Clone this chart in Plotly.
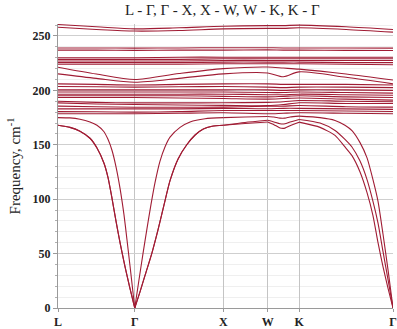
import plotly.graph_objects as go

# High-symmetry path positions (reciprocal-space distance) and labels
sym_k = [0.0, 0.866, 1.866, 2.366, 2.720, 3.780]
sym_labels = ["L", "Γ", "X", "W", "K", "Γ"]

# ---- acoustic branches, sampled per path segment (k, frequency) ----
# L -> Γ
k_ta_LG = [0.0, 0.135, 0.248, 0.361, 0.440, 0.519, 0.564, 0.609, 0.654, 0.700, 0.756, 0.812, 0.866]
ta_LG = [168, 166, 162.5, 156, 147, 133, 120, 101, 80, 60, 38, 18, 0]
k_la_LG = [0.0, 0.135, 0.248, 0.361, 0.440, 0.519, 0.564, 0.609, 0.654, 0.700, 0.744, 0.778, 0.812, 0.866]
la_LG = [175, 174.7, 173.5, 171, 168, 162, 155, 145, 130, 110, 86, 63, 39, 0]
# Γ -> X
k_la_GX = [0.866, 0.914, 0.959, 1.004, 1.049, 1.094, 1.151, 1.207, 1.264, 1.377, 1.490, 1.659, 1.866]
la_GX = [0, 26, 50, 73, 95, 115, 135, 148, 157, 166, 171, 174, 175]
k_ta_GX = [0.866, 0.926, 0.982, 1.058, 1.129, 1.197, 1.264, 1.355, 1.453, 1.547, 1.640, 1.739, 1.866]
ta_GX = [0, 15, 30, 50, 72, 95, 117, 137, 150, 159, 164.5, 167, 168]
# X -> W
k_XW = [1.866, 2.110, 2.366]
a1_XW = [175, 175.5, 176]
a2_XW = [168, 170.5, 172.5]
a3_XW = [168, 169.5, 171]
# W -> K
k_WK = [2.366, 2.437, 2.505, 2.561, 2.618, 2.720]
a1_WK = [176, 175.5, 174.5, 174.5, 175.5, 176.3]
a2_WK = [172.5, 171, 169.3, 169.3, 171, 173.3]
a3_WK = [171, 168.5, 165.5, 165.3, 167.5, 170.8]
# K -> Γ
k_KG = [2.720, 2.957, 3.126, 3.238, 3.317, 3.408, 3.487, 3.554, 3.611, 3.667, 3.724, 3.780]
a1_KG = [176.3, 175, 172.4, 168, 163, 152, 138, 118, 98, 68, 35, 0]
a2_KG = [173.3, 170, 163.2, 155, 148, 135, 118, 98, 78, 52, 26, 0]
a3_KG = [170.8, 166, 158.6, 148, 140, 125, 106, 85, 60, 38, 18, 0]

# ---- optical branches, sampled at L, mid, Γ, mid, X, W, mid, K, mid, Γ ----
k_opt = [0.0, 0.433, 0.866, 1.366, 1.866, 2.366, 2.543, 2.720, 3.250, 3.780]
optical = [
    [260.5, 258.5, 256.5, 257.5, 259, 259.5, 259.5, 260, 258.5, 256],
    [258, 256, 254.5, 255, 256.5, 257, 257, 257.5, 256, 253.5],
    [239, 239, 238.8, 239, 239.2, 239.2, 239, 239, 239, 238.8],
    [237, 237, 236.8, 237, 237, 237.2, 237, 237, 236.8, 236.6],
    [230, 230, 230, 230.5, 230.5, 230.5, 230.5, 230.5, 230.5, 230.5],
    [228.5, 228.5, 228.5, 228.5, 229, 229, 229, 229, 229, 229],
    [227, 227, 227, 227, 227.5, 227.5, 227.5, 227.5, 227.5, 227.5],
    [225.5, 225.5, 225.5, 225.5, 226, 226, 226, 226, 225.5, 225.5],
    [224, 224, 224, 224, 224.5, 224.5, 224.5, 224.5, 224, 223.5],
    [221.3, 215, 210, 215.5, 220, 221.5, 220.5, 219.5, 215, 209.5],
    [215.2, 211, 207.5, 211, 215.2, 216, 212.5, 217, 212, 206],
    [206, 205.5, 205, 205.5, 206, 206, 205.5, 205.5, 205.5, 205],
    [203.5, 203.3, 203, 203.3, 203.5, 203, 202.5, 203, 203, 202.5],
    [200.5, 200.5, 200.5, 200.5, 200.5, 200.5, 200, 200.5, 200.5, 200],
    [198.5, 198.5, 198.5, 198.5, 198.5, 198, 198, 198.5, 198, 197.5],
    [196.5, 196.5, 196.5, 196.5, 196.5, 196, 196, 196.5, 196, 195.5],
    [195, 195, 195, 195, 194.5, 194, 194.5, 195, 194, 193.5],
    [193.5, 193.5, 193.5, 193, 192.5, 192, 192.5, 193, 192, 191],
    [190, 189, 188.5, 188.5, 188.6, 189, 189.5, 190.7, 190, 189.5],
    [188.5, 187.5, 187, 186.5, 186.2, 186, 187, 188.6, 188, 188],
    [185.5, 185, 184.5, 184.5, 184.6, 185.5, 185.5, 186.1, 185, 184.6],
    [183, 183, 183, 183, 183.5, 183.1, 183.5, 183.5, 183, 182.5],
    [180.5, 180.3, 180, 180.5, 181.5, 181.5, 181.5, 181.5, 181, 180.6],
    [178.5, 178.5, 178.5, 179, 179.4, 178.5, 179, 179.4, 179, 178.5],
]

y_ticks = [0, 50, 100, 150, 200, 250]

LINE_COLOR = "#a01c34"
SERIF = "Liberation Serif, Times New Roman, serif"

fig = go.Figure()

def join(segs_k, segs_v):
    xs, ys = [], []
    for ks, vs in zip(segs_k, segs_v):
        if xs:
            xs.append(None)
            ys.append(None)
        xs.extend(ks)
        ys.extend(vs)
    return xs, ys

acoustic = [
    ([k_la_LG, k_la_GX, k_XW, k_WK, k_KG], [la_LG, la_GX, a1_XW, a1_WK, a1_KG]),
    ([k_ta_LG, k_ta_GX, k_XW, k_WK, k_KG], [ta_LG, ta_GX, a2_XW, a2_WK, a2_KG]),
    ([k_ta_LG, k_ta_GX, k_XW, k_WK, k_KG], [ta_LG, ta_GX, a3_XW, a3_WK, a3_KG]),
]
for ks, vs in acoustic:
    xs, ys = join(ks, vs)
    fig.add_trace(go.Scatter(x=xs, y=ys, mode="lines", connectgaps=False,
                             line=dict(color=LINE_COLOR, width=1.1, shape="spline", smoothing=0.6),
                             hoverinfo="skip", showlegend=False))

for band in optical:
    fig.add_trace(go.Scatter(x=k_opt, y=band, mode="lines",
                             line=dict(color=LINE_COLOR, width=1.1, shape="spline", smoothing=0.8),
                             hoverinfo="skip", showlegend=False))

fig.update_layout(
    width=397, height=329,
    margin=dict(l=58, r=4, t=24, b=21),
    paper_bgcolor="white", plot_bgcolor="white",
    title=dict(text="L - Γ, Γ - X, X - W, W - K, K - Γ", x=0.56, xanchor="center",
               y=0.97, yanchor="middle", font=dict(family=SERIF, size=15, color="#222")),
    font=dict(family=SERIF, color="#222"),
)
fig.update_xaxes(
    range=[sym_k[0], sym_k[-1]], tickmode="array", tickvals=sym_k, ticktext=sym_labels,
    showgrid=True, gridcolor="#c4c4c4", gridwidth=1, zeroline=False,
    showline=True, linecolor="#9a9a9a", linewidth=1, automargin=False,
    ticks="outside", ticklen=3, tickcolor="#9a9a9a",
    tickfont=dict(family=SERIF, size=12, color="#222", weight="bold"),
)
fig.update_yaxes(
    range=[0, 261], tickmode="array", tickvals=y_ticks,
    showgrid=True, gridcolor="#cfcfcf", gridwidth=1, zeroline=False,
    showline=True, linecolor="#9a9a9a", linewidth=1, automargin=False,
    ticks="outside", ticklen=4, tickcolor="#9a9a9a",
    minor=dict(dtick=10, showgrid=True, gridcolor="#efefef", ticks="outside", ticklen=2, tickcolor="#b0b0b0"),
    tickfont=dict(family=SERIF, size=12, color="#222", weight="bold"),
    title=dict(text="Frequency, cm<sup>-1</sup>", font=dict(family=SERIF, size=15, color="#222"), standoff=8),
)

fig.write_html("out.html")
